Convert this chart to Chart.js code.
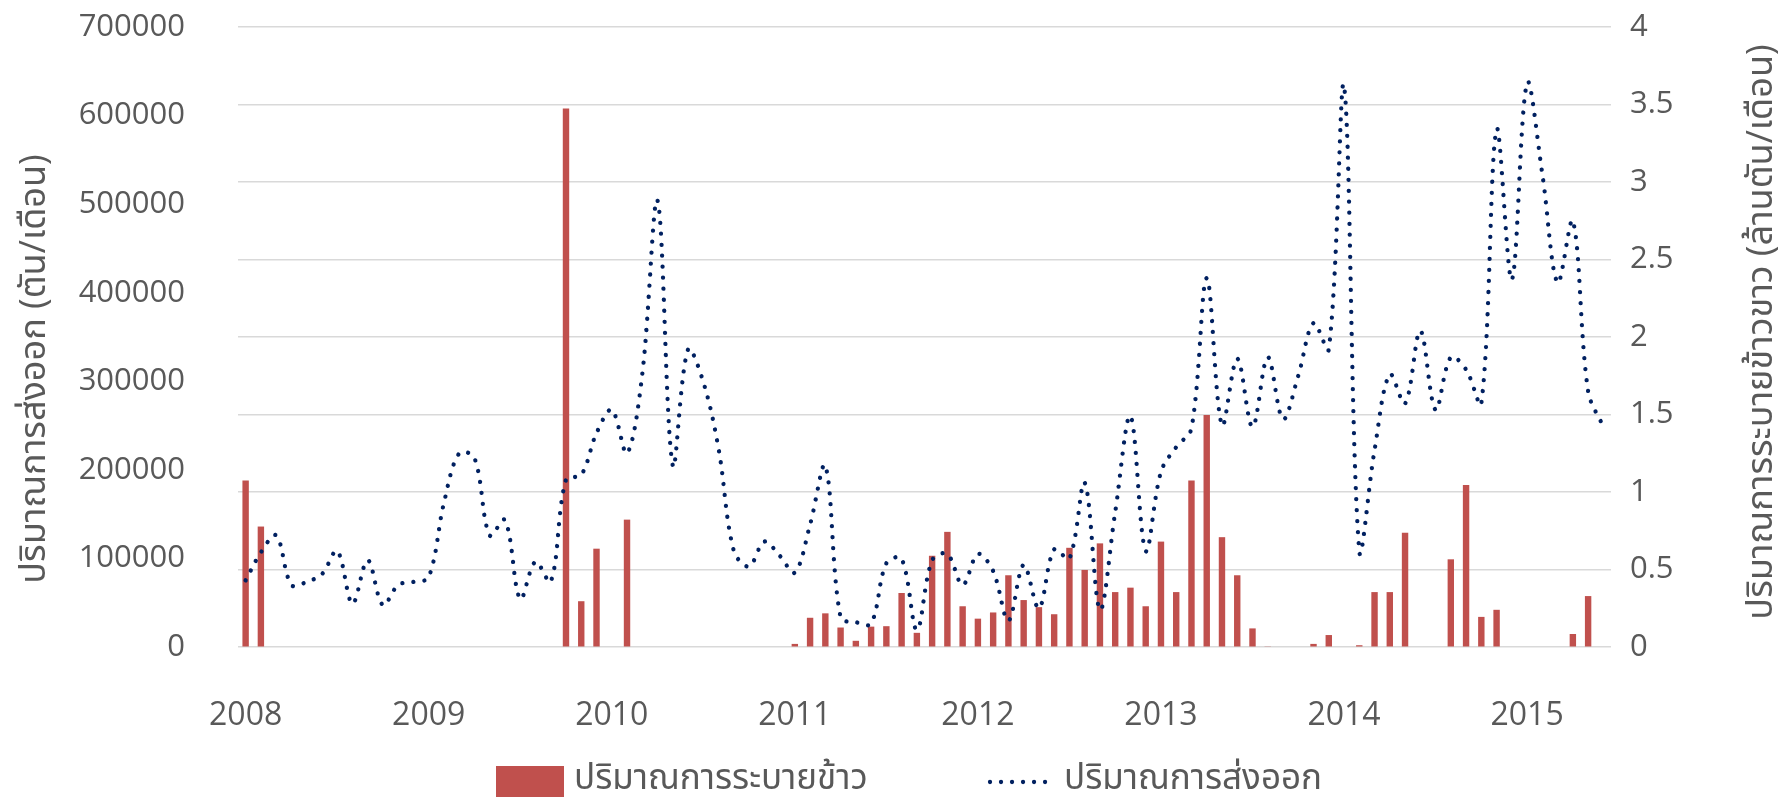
<!DOCTYPE html>
<html>
<head>
<meta charset="utf-8">
<script src="https://cdn.jsdelivr.net/npm/chart.js@4.4.1/dist/chart.umd.min.js"></script>
<style>
  html, body { margin: 0; padding: 0; background: #fff; }
  #wrap { width: 1781px; height: 797px; }
</style>
</head>
<body>
<div id="wrap"><canvas id="chart-rice" width="1781" height="797"></canvas></div>
<script>
// ปีบนแกน X (ข้อมูลรายเดือน ม.ค. 2551 - มิ.ย. 2558)
const years = ['2008', '2009', '2010', '2011', '2012', '2013', '2014', '2015'];
const lastYearMonths = 6;

// ปริมาณการระบายข้าว (ตัน/เดือน) - แกนซ้าย
const releaseTons = [
  188000, 136000, 0, 0, 0, 0, 0, 0, 0, 0, 0, 0,                                   // 2008
  0, 0, 0, 0, 0, 0, 0, 0, 0, 608000, 51700, 111000,                               // 2009
  0, 143800, 0, 0, 0, 0, 0, 0, 0, 0, 0, 0,                                        // 2010
  3500, 33000, 38000, 22000, 7000, 23000, 23500, 61000, 16000, 103000, 130000, 46000, // 2011
  32000, 39000, 81000, 53000, 45000, 37000, 112000, 87000, 117000, 62000, 67000, 46000, // 2012
  119000, 62000, 188000, 262000, 124000, 81000, 21000, 800, 0, 0, 3500, 13500,     // 2013
  0, 2000, 62000, 62000, 129000, 0, 0, 99000, 183000, 34000, 42000, 0,            // 2014
  0, 0, 0, 14700, 57500, 0                                                        // 2015
];

// ปริมาณการส่งออก (ล้านตัน/เดือน) - แกนขวา
const exportMt = [
  0.43, 0.61, 0.72, 0.40, 0.42, 0.47, 0.62, 0.28, 0.56, 0.27, 0.40, 0.42, // 2008
  0.45, 0.93, 1.25, 1.22, 0.72, 0.82, 0.31, 0.55, 0.42, 1.08, 1.11, 1.38, // 2009
  1.53, 1.25, 1.76, 2.88, 1.17, 1.92, 1.71, 1.28, 0.62, 0.52, 0.68, 0.59, // 2010
  0.48, 0.79, 1.17, 0.19, 0.16, 0.15, 0.54, 0.57, 0.11, 0.56, 0.60, 0.40, // 2011
  0.60, 0.49, 0.17, 0.53, 0.25, 0.63, 0.57, 1.06, 0.24, 0.87, 1.49, 0.62, // 2012
  1.13, 1.29, 1.41, 2.38, 1.43, 1.86, 1.42, 1.87, 1.47, 1.75, 2.09, 1.92, // 2013
  3.62, 0.62, 1.27, 1.76, 1.57, 2.04, 1.53, 1.87, 1.79, 1.57, 3.34, 2.37, // 2014
  3.64, 3.05, 2.35, 2.75, 1.65, 1.42                                      // 2015
];

// ช่วงแกน
const leftMax = 700000, leftStep = 100000;
const rightMax = 4, rightStep = 0.5;

const releaseLabel = 'ปริมาณการระบายข้าว';
const exportLabel = 'ปริมาณการส่งออก';
const leftTitle = 'ปริมาณการส่งออก (ตัน/เดือน)';
const rightTitle = 'ปริมาณการระบายข้าวขาว (ล้านตัน/เดือน)';

// เดือนทั้งหมดเป็น category เช่น 2008-01
const months = [];
years.forEach((y, yi) => {
  const n = yi === years.length - 1 ? lastYearMonths : 12;
  for (let m = 1; m <= n; m++) months.push(y + '-' + String(m).padStart(2, '0'));
});

const FONT = '"Open Sans", "Noto Sans Thai", "Noto Sans", sans-serif';
const TEXT = '#595959';
const RED = '#C0504D';
const NAVY = '#002060';
const GRID = '#D9D9D9';
const DOTS = [0.01, 11];

// ชื่อแกนทั้งสองข้างอ่านจากล่างขึ้นบน + legend ด้านล่าง
const extraText = {
  id: 'extraText',
  afterDraw(chart) {
    const ctx = chart.ctx;
    ctx.save();
    ctx.fillStyle = TEXT;
    ctx.font = '36px ' + FONT;
    ctx.textAlign = 'center';
    ctx.textBaseline = 'middle';
    [[leftTitle, 35, 369], [rightTitle, 1762, 332]].forEach(([t, x, y]) => {
      ctx.save();
      ctx.translate(x, y);
      ctx.rotate(-Math.PI / 2);
      ctx.fillText(t, 0, 0);
      ctx.restore();
    });

    const ds = chart.data.datasets;
    ctx.font = '35px ' + FONT;
    ctx.textAlign = 'left';
    // บาร์
    ctx.fillStyle = ds[1].backgroundColor;
    ctx.fillRect(496, 766, 68, 31);
    ctx.fillStyle = TEXT;
    ctx.fillText(ds[1].label, 574, 779);
    // เส้นประจุด
    ctx.strokeStyle = ds[0].borderColor;
    ctx.lineWidth = ds[0].borderWidth;
    ctx.lineCap = 'round';
    ctx.setLineDash(DOTS);
    ctx.beginPath();
    ctx.moveTo(990, 782);
    ctx.lineTo(1052, 782);
    ctx.stroke();
    ctx.setLineDash([]);
    ctx.fillText(ds[0].label, 1064, 779);
    ctx.restore();
  }
};

new Chart(document.getElementById('chart-rice'), {
  data: {
    labels: months,
    datasets: [
      {
        type: 'line',
        label: exportLabel,
        data: exportMt,
        yAxisID: 'yRight',
        borderColor: NAVY,
        borderWidth: 4.3,
        borderDash: DOTS,
        borderCapStyle: 'round',
        pointRadius: 0,
        tension: 0.35,
        fill: false,
        order: 0
      },
      {
        type: 'bar',
        label: releaseLabel,
        data: releaseTons,
        yAxisID: 'yLeft',
        backgroundColor: RED,
        borderWidth: 0,
        categoryPercentage: 1,
        barPercentage: 0.42,
        order: 1
      }
    ]
  },
  options: {
    responsive: false,
    animation: false,
    devicePixelRatio: 1,
    layout: { padding: { top: 27, left: 0, right: 0, bottom: 0 } },
    plugins: {
      legend: { display: false },
      tooltip: { enabled: false }
    },
    scales: {
      x: {
        grid: { display: false, drawTicks: false },
        border: { display: false },
        ticks: {
          autoSkip: false,
          maxRotation: 0,
          minRotation: 0,
          padding: 50,
          color: TEXT,
          font: { family: FONT, size: 32 },
          callback: function (val) {
            const lab = this.getLabelForValue(val);
            return lab.endsWith('-01') ? lab.slice(0, 4) : '';
          }
        },
        afterFit: s => { s.height = 150; }
      },
      yLeft: {
        position: 'left',
        min: 0,
        max: leftMax,
        // เส้นกริดโปร่งใส ใช้ tickLength ดันตัวเลขออกจากพื้นที่กราฟ
        grid: { display: true, color: 'transparent', drawTicks: true, tickLength: 50, tickColor: 'transparent' },
        border: { display: false },
        ticks: {
          stepSize: leftStep,
          padding: 3,
          color: TEXT,
          font: { family: FONT, size: 31 },
          callback: v => String(v)
        },
        afterFit: s => { s.width = 238; }
      },
      yRight: {
        position: 'right',
        min: 0,
        max: rightMax,
        grid: { display: true, color: GRID, lineWidth: 1.6, drawTicks: true, tickLength: 16, tickColor: 'transparent' },
        border: { display: false },
        ticks: {
          stepSize: rightStep,
          padding: 3,
          color: TEXT,
          font: { family: FONT, size: 31 },
          callback: v => String(v)
        },
        afterFit: s => { s.width = 170; }
      }
    }
  },
  plugins: [extraText]
});
</script>
</body>
</html>
